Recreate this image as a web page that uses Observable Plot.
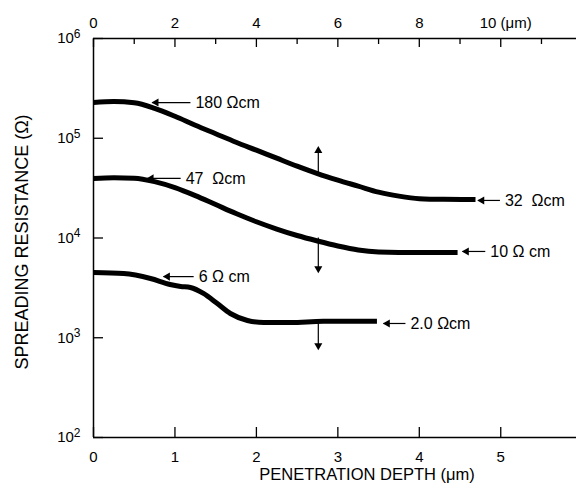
<!DOCTYPE html>
<html>
<head>
<meta charset="utf-8">
<script src="https://cdn.jsdelivr.net/npm/d3@7"></script>
<script src="https://cdn.jsdelivr.net/npm/@observablehq/plot@0.6"></script>
<style>
  body { margin: 0; background: #fff; }
  svg { font-family: "Liberation Sans", Arial, sans-serif; }
</style>
</head>
<body>
<div id="chart"></div>
<script>
// Curve: 180 Ωcm -> 32 Ωcm
const depthA = [0, 0.25, 0.5, 0.75, 1.0, 1.25, 1.5, 1.75, 2.0, 2.25, 2.5, 2.75, 3.0, 3.25, 3.5, 3.75, 4.0, 4.3, 4.69];
const resA   = [228000, 233000, 226500, 199500, 166000, 134900, 110900, 91200, 75900, 63100, 52500, 44200, 38000, 33100, 28800, 26300, 24800, 24400, 24300];
// Curve: 47 Ωcm -> 10 Ωcm
const depthB = [0, 0.25, 0.5, 0.75, 1.0, 1.25, 1.5, 1.75, 2.0, 2.25, 2.5, 2.75, 3.0, 3.25, 3.5, 3.75, 4.47];
const resB   = [39550, 40270, 39810, 36730, 31990, 26610, 21630, 17580, 14550, 12300, 10590, 9330, 8320, 7590, 7240, 7160, 7160];
// Curve: 6 Ωcm -> 2.0 Ωcm
const depthC = [0, 0.37, 0.70, 0.94, 1.07, 1.19, 1.35, 1.52, 1.68, 1.89, 2.09, 2.42, 2.82, 3.48];
const resC   = [4500, 4400, 3930, 3420, 3270, 3190, 2780, 2200, 1750, 1490, 1420, 1420, 1460, 1460];

// Resistivity labels with arrows
const labelText = ["180 Ωcm", "47  Ωcm", "6 Ω cm", "32  Ωcm", "10 Ω cm", "2.0 Ωcm"];
const labelTip  = [0.72, 0.66, 0.86, 4.72, 4.53, 3.56];
const labelTail = [1.19, 1.07, 1.23, 4.99, 4.81, 3.83];
const labelRes  = [228000, 39600, 4100, 23800, 7330, 1390];

// Vertical arrows
const vArrowDepth = [2.76, 2.76, 2.76];
const vArrowFrom  = [42000, 10100, 1460];
const vArrowTo    = [75000, 4940, 836];

// Axes
const xTicks = [0, 1, 2, 3, 4, 5];
const topMajor = [0, 1, 2, 3, 4, 5];
const topMinor = [0.5, 1.5, 2.5, 3.5, 4.5, 5.5];
const topLabels = ["0", "2", "4", "6", "8", "10 (μm)"];
const yTicks = [1e2, 1e3, 1e4, 1e5, 1e6];
const yExp = ["2", "3", "4", "5", "6"];
const xTitle = "PENETRATION DEPTH (μm)";
const yTitle = "SPREADING RESISTANCE (Ω)";

const toRows = (xs, ys) => xs.map((x, i) => ({depth: x, res: ys[i]}));
const curves = [toRows(depthA, resA), toRows(depthB, resB), toRows(depthC, resC)];
const labels = labelText.map((t, i) => ({t, tip: labelTip[i], tail: labelTail[i], res: labelRes[i]}));
const vArrows = vArrowDepth.map((d, i) => ({d, from: vArrowFrom[i], to: vArrowTo[i], up: vArrowTo[i] > vArrowFrom[i]}));

const lineStyle = {x: "depth", y: "res", stroke: "black", strokeWidth: 5, curve: "monotone-x", strokeLinecap: "butt"};

const plot = Plot.plot({
  width: 576,
  height: 490,
  marginLeft: 93,
  marginTop: 38,
  marginBottom: 53,
  marginRight: 0,
  x: {domain: [0, 5.93]},
  y: {type: "log", domain: [100, 1e6]},
  style: {fontFamily: "'Liberation Sans', Arial, sans-serif", color: "black"},
  marks: [
    // frame lines
    Plot.ruleY([100], {strokeWidth: 1.5}),
    Plot.ruleY([1e6], {strokeWidth: 1.5}),
    Plot.ruleX([0], {strokeWidth: 1.5}),
    // bottom axis
    Plot.axisX(xTicks, {anchor: "bottom", tickSize: 0, tickPadding: 14, fontSize: 15, label: null}),
    Plot.axisX(xTicks, {anchor: "bottom", tickSize: -10, tickFormat: () => "", label: null, strokeWidth: 1.3}),
    // top axis
    Plot.axisX(topMajor, {anchor: "top", tickSize: -8, tickFormat: () => "", label: null, strokeWidth: 1.3}),
    Plot.axisX(topMinor, {anchor: "top", tickSize: -5, tickFormat: () => "", label: null, strokeWidth: 1.3}),
    Plot.axisX(topMajor.slice(0, 5), {anchor: "top", tickSize: 0, tickPadding: 11, fontSize: 15, label: null,
      tickFormat: d => topLabels[topMajor.indexOf(d)]}),
    Plot.axisX(topMajor.slice(5), {anchor: "top", tickSize: 0, tickPadding: 11, fontSize: 15, label: null,
      tickFormat: () => topLabels[5], textAnchor: "start", dx: -21}),
    // left axis
    Plot.axisY(yTicks, {anchor: "left", tickSize: 0, tickPadding: 13, fontSize: 15, label: null,
      tickFormat: d => "10^" + yExp[yTicks.indexOf(d)]}),
    Plot.axisY(yTicks, {anchor: "left", tickSize: -10, tickFormat: () => "", label: null, strokeWidth: 1.3}),
    // axis titles
    Plot.text([xTitle], {frameAnchor: "bottom", textAnchor: "middle", lineAnchor: "middle", dy: 37, dx: 32, fontSize: 16.5, text: d => d}),
    Plot.text([yTitle], {frameAnchor: "left", textAnchor: "middle", lineAnchor: "middle", rotate: -90, dx: -71, dy: 4, fontSize: 18, text: d => d}),
    // curves
    ...curves.map(c => Plot.line(c, lineStyle)),
    // horizontal label arrows
    Plot.link(labels, {x1: "tip", x2: "tail", y1: "res", y2: "res", stroke: "black", strokeWidth: 1.2}),
    Plot.dot(labels, {x: "tip", y: "res", symbol: "triangle", rotate: -90, r: 3, fill: "black", stroke: null, dx: 4}),
    Plot.text(labels, {x: "tail", y: "res", text: "t", textAnchor: "start", dx: 5, fontSize: 16}),
    // vertical arrows
    Plot.link(vArrows, {x1: "d", x2: "d", y1: "from", y2: "to", stroke: "black", strokeWidth: 1.2}),
    Plot.dot(vArrows, {x: "d", y: "to", symbol: "triangle", rotate: d => d.up ? 0 : 180, r: 3, fill: "black", stroke: null}),
  ]
});

// Superscript exponents for the log axis labels
d3.select(plot).selectAll("text").each(function() {
  const s = this.textContent;
  if (s.startsWith("10^")) {
    const exp = s.slice(3);
    const t = d3.select(this);
    t.text("10");
    t.append("tspan").attr("dy", "-0.45em").attr("font-size", 12).text(exp);
  }
});

document.getElementById("chart").appendChild(plot);
</script>
</body>
</html>
